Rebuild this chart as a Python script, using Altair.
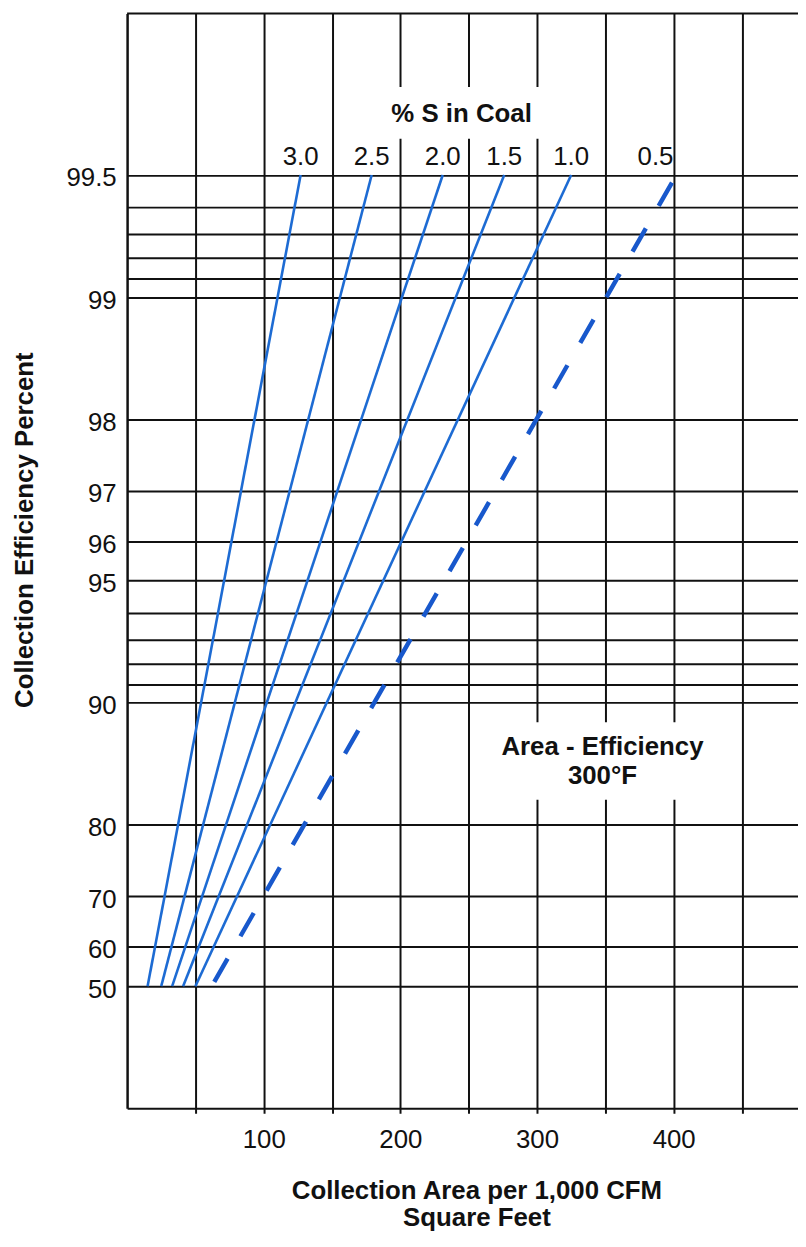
import altair as alt
import pandas as pd

# ---- data ----
sulfur = ["3.0", "2.5", "2.0", "1.5", "1.0", "0.5"]          # % S in coal
area_at_50 = [15, 25, 33, 41, 50, 62]                          # sq ft / 1000 CFM at 50 %
area_at_995 = [127, 179, 231, 276, 325, 402]                   # sq ft / 1000 CFM at 99.5 %
eff_ends = [50, 99.5]

eff_grid = [50, 60, 70, 80, 90, 91, 92, 93, 94, 95, 96, 97, 98,
            99, 99.1, 99.2, 99.3, 99.4, 99.5]
eff_labels = [50, 60, 70, 80, 90, 95, 96, 97, 98, 99, 99.5]
area_grid = [50, 100, 150, 200, 250, 300, 350, 400, 450]
area_labels = [100, 200, 300, 400]

rows = []
for s, a0, a1 in zip(sulfur, area_at_50, area_at_995):
    rows.append({"sulfur": s, "area": a0, "eff": eff_ends[0]})
    rows.append({"sulfur": s, "area": a1, "eff": eff_ends[1]})
df = pd.DataFrame(rows)

pen_grid = [round(100 - e, 2) for e in eff_grid]
pen_labels = [round(100 - e, 2) for e in eff_labels]

W, H = 676, 1103
FONT = "Liberation Sans"
INK = "#111111"
BLUE = "#1d6bd3"
BLUE_D = "#1858cc"

y_label_expr = (f"indexof({pen_labels}, round(datum.value*100)/100) >= 0 ? "
                f"'' + round((100 - datum.value)*10)/10 : ''")
x_label_expr = f"indexof({area_labels}, datum.value) >= 0 ? datum.label : ''"

x_enc = alt.X(
    "area:Q",
    scale=alt.Scale(domain=[0, 491], nice=False, zero=False),
    axis=alt.Axis(
        values=area_grid, labelExpr=x_label_expr,
        grid=True, gridColor=INK, gridWidth=2, gridOpacity=1,
        domainColor=INK, domainWidth=2,
        ticks=True, tickColor=INK, tickWidth=2, tickSize=5,
        labelFont=FONT, labelFontSize=26, labelColor=INK,
        labelBaseline="alphabetic", labelPadding=35,
        labelOverlap=False, labelFlush=False,
        title=["Collection Area per 1,000 CFM", "Square Feet"],
        titleFont=FONT, titleFontSize=26, titleFontWeight="bold", titleColor=INK,
        titleX=352, titleY=70, titleAlign="center", titleBaseline="top",
        titleLineHeight=27,
    ),
)

y_enc = alt.Y(
    "pen:Q",
    scale=alt.Scale(type="log", domain=[0.2, 100], reverse=True, nice=False),
    axis=alt.Axis(
        values=pen_grid, labelExpr=y_label_expr,
        grid=True, gridColor=INK, gridWidth=2, gridOpacity=1,
        domainColor=INK, domainWidth=2.5,
        ticks=False,
        labelFont=FONT, labelFontSize=26, labelColor=INK,
        labelBaseline="alphabetic", labelOffset=11, labelPadding=11,
        labelOverlap=False, labelFlush=False,
        title="Collection Efficiency Percent",
        titleFont=FONT, titleFontSize=26, titleFontWeight="bold", titleColor=INK,
        titleX=-95, titleY=520, titleAlign="center", titleBaseline="alphabetic",
        titleAngle=270,
    ),
)

one = pd.DataFrame({"k": [0]})

box_top = alt.Chart(one).mark_rect(color="white").encode(
    x=alt.value(217), x2=alt.value(472), y=alt.value(74), y2=alt.value(126)
)
box_mid = alt.Chart(one).mark_rect(color="white").encode(
    x=alt.value(352), x2=alt.value(610), y=alt.value(714), y2=alt.value(792)
)

base = alt.Chart(df).transform_calculate(pen="100 - datum.eff")

solid = base.transform_filter("datum.sulfur != '0.5'").mark_line(
    color=BLUE, strokeWidth=2.6
).encode(x=x_enc, y=y_enc, detail="sulfur:N")

dashed = base.transform_filter("datum.sulfur == '0.5'").mark_line(
    color=BLUE_D, strokeWidth=4.5, strokeDash=[27, 26], strokeDashOffset=48
).encode(x=x_enc, y=y_enc, detail="sulfur:N")

labels = base.transform_filter(
    "datum.eff == 99.5 && datum.sulfur != '0.5'"
).mark_text(
    dy=-10, baseline="alphabetic", align="center", font=FONT, fontSize=26, color=INK
).encode(x=x_enc, y=y_enc, text="sulfur:N")

label05 = base.transform_filter(
    "datum.eff == 99.5 && datum.sulfur == '0.5'"
).mark_text(
    dy=-10, dx=-21, baseline="alphabetic", align="center", font=FONT, fontSize=26, color=INK
).encode(x=x_enc, y=y_enc, text="sulfur:N")

title_s = alt.Chart(one).mark_text(
    text="% S in Coal", font=FONT, fontSize=26, fontWeight="bold", color=INK,
    align="center", baseline="alphabetic"
).encode(x=alt.value(337), y=alt.value(109))

title_ae = alt.Chart(one).mark_text(
    text=["Area - Efficiency", "300°F"], font=FONT, fontSize=26, fontWeight="bold",
    color=INK, align="center", baseline="top", lineHeight=29
).encode(x=alt.value(479), y=alt.value(726))

top_border = alt.Chart(one).mark_rule(color=INK, strokeWidth=2).encode(
    x=alt.value(0), x2=alt.value(W), y=alt.value(0)
)

chart = alt.layer(
    box_top, box_mid, solid, dashed, labels, label05, title_s, title_ae, top_border
).properties(
    width=W, height=H,
    autosize=alt.AutoSizeParams(type="none"),
    padding={"left": 120, "top": 1, "right": 0, "bottom": 120},
).configure_view(stroke="transparent")

chart.save("out.html", embed_options={"renderer": "svg", "actions": False})
